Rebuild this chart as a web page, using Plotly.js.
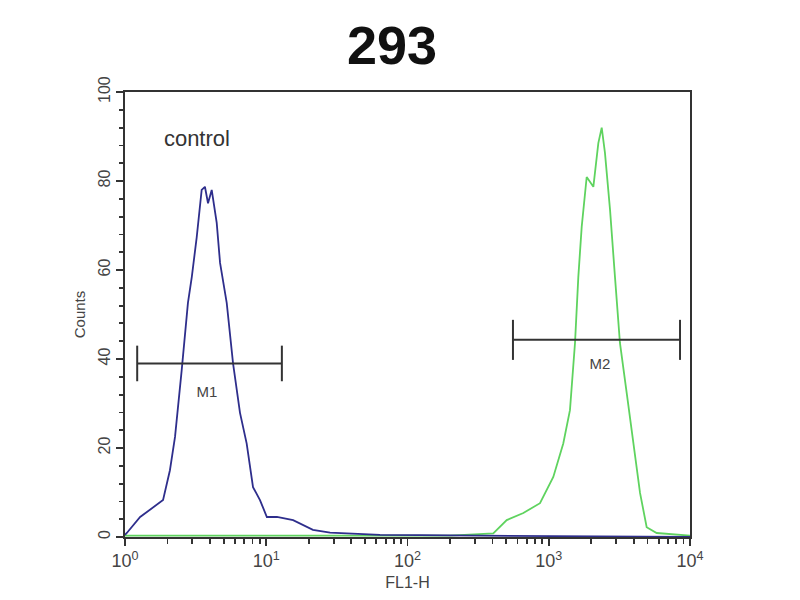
<!DOCTYPE html>
<html>
<head>
<meta charset="utf-8">
<script src="https://cdn.plot.ly/plotly-3.0.1.min.js"></script>
<style>html,body{margin:0;padding:0;background:#fff;}#chart{width:800px;height:600px;}</style>
</head>
<body>
<div id="chart"></div>
<script>
// Control histogram (blue)
const controlX = [1.0, 1.03, 1.28, 1.58, 1.86, 2.08, 2.26, 2.52, 2.79, 2.97, 3.22, 3.49, 3.68, 3.87, 4.11, 4.46, 4.71, 5.25, 5.82, 6.52, 7.27, 8.06, 9.03, 10.1, 11.9, 15.5, 21.4, 28.3, 39.2, 63.9, 122, 452, 1200, 10000];
const controlY = [0.5, 0.9, 4.5, 6.7, 8.3, 15, 22.5, 37.5, 52.6, 58.4, 67.4, 78, 78.7, 75, 78, 70.6, 61.6, 52.6, 39, 27.9, 21, 11.2, 8.3, 4.5, 4.5, 3.8, 1.6, 1.0, 0.8, 0.5, 0.4, 0.3, 0.2, 0];
// Sample histogram (green)
const sampleX = [1.0, 50, 200, 405, 504, 661, 867, 1077, 1267, 1413, 1534, 1619, 1711, 1856, 2069, 2244, 2371, 2500, 2716, 2944, 3192, 3563, 3972, 4428, 4935, 5810, 10000];
const sampleY = [0.3, 0.3, 0.3, 0.8, 3.8, 5.4, 7.6, 13.5, 21, 28.5, 43.6, 58.4, 69.7, 80.9, 78.7, 88.5, 92, 86.3, 73.5, 58.4, 43.6, 32.4, 21, 9.9, 2.2, 0.9, 0.3];
// Gate markers
const markerNames = ['M1', 'M2'];
const markerLo = [1.22, 558];
const markerHi = [12.9, 8500];
const markerLevel = [39, 44.3];
const markerLabelX = [3.8, 2307];
const markerLabelY = [32.4, 38.7];
// Tick labels
const xTickVals = [1, 10, 100, 1000, 10000];
const xTickText = ['10<sup>0</sup>', '10<sup>1</sup>', '10<sup>2</sup>', '10<sup>3</sup>', '10<sup>4</sup>'];
const yTickVals = [0, 20, 40, 60, 80, 100];
const controlLabel = {text: 'control', x: 3.23, y: 89.2};

const FONT = 'Liberation Sans, Arial, sans-serif';
const capHalf = [4, 4.5];
const traces = [];
traces.push({x: sampleX, y: sampleY, mode: 'lines', line: {color: '#5fd35f', width: 1.8}, hoverinfo: 'skip'});
traces.push({x: controlX, y: controlY, mode: 'lines', line: {color: '#2e2e8c', width: 1.8}, hoverinfo: 'skip'});
for (let i = 0; i < markerNames.length; i++) {
  const c = capHalf[i];
  traces.push({
    x: [markerLo[i], markerLo[i], null, markerLo[i], markerHi[i], null, markerHi[i], markerHi[i]],
    y: [markerLevel[i] - c, markerLevel[i] + c, null, markerLevel[i], markerLevel[i], null, markerLevel[i] - c, markerLevel[i] + c],
    mode: 'lines', line: {color: '#333', width: 2}, hoverinfo: 'skip'
  });
  traces.push({
    x: [markerLabelX[i]], y: [markerLabelY[i]], mode: 'text', text: [markerNames[i]],
    textfont: {family: FONT, size: 15, color: '#444'}, hoverinfo: 'skip'
  });
}
traces.push({
  x: [controlLabel.x], y: [controlLabel.y], mode: 'text', text: [controlLabel.text],
  textfont: {family: FONT, size: 22, color: '#333'}, hoverinfo: 'skip'
});

const minorX = [];
for (let d = 0; d < 4; d++) for (let k = 2; k <= 9; k++) minorX.push(k * Math.pow(10, d));
const minorY = [];
for (let v = 4; v < 100; v += 4) if (v % 20 !== 0) minorY.push(v);

const layout = {
  width: 800, height: 600,
  margin: {l: 125, r: 110, t: 92, b: 63},
  paper_bgcolor: '#fff', plot_bgcolor: '#fff',
  showlegend: false,
  title: {text: '<b>293</b>', x: 0.49, xanchor: 'center', y: 0.925, yanchor: 'middle',
          font: {family: FONT, size: 54, color: '#111'}},
  xaxis: {
    type: 'log', range: [0, 4], showgrid: false, zeroline: false,
    showline: true, linecolor: '#333', linewidth: 1.8, mirror: true,
    ticks: 'outside', ticklen: 7, tickcolor: '#333', tickwidth: 1.8,
    tickvals: xTickVals, ticktext: xTickText,
    tickfont: {family: FONT, size: 18, color: '#444'},
    minor: {tickvals: minorX, ticks: 'outside', ticklen: 5, tickcolor: '#333', tickwidth: 1.8, showgrid: false},
    title: {text: 'FL1-H', standoff: 6, font: {family: FONT, size: 16, color: '#444'}}
  },
  yaxis: {
    range: [0, 100], showgrid: false, zeroline: false,
    showline: true, linecolor: '#333', linewidth: 1.8, mirror: true,
    ticks: 'outside', ticklen: 7, tickcolor: '#333', tickwidth: 1.8,
    tickvals: yTickVals, tickangle: -90,
    tickfont: {family: FONT, size: 16, color: '#444'},
    minor: {tickvals: minorY, ticks: 'outside', ticklen: 4, tickcolor: '#333', tickwidth: 1.8, showgrid: false},
    title: {text: 'Counts', standoff: 6, font: {family: FONT, size: 15, color: '#444'}}
  }
};
Plotly.newPlot('chart', traces, layout, {staticPlot: true, displayModeBar: false});
</script>
</body>
</html>
